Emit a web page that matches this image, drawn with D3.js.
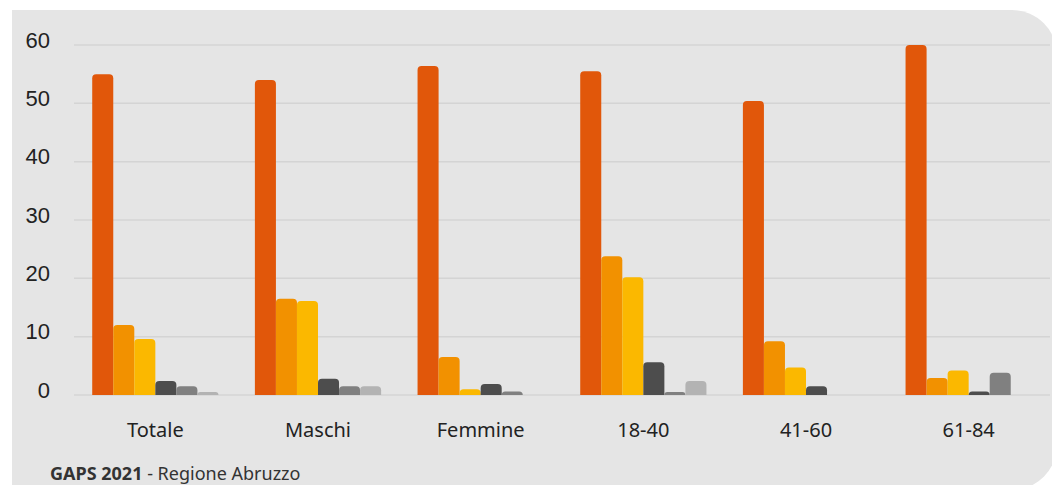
<!DOCTYPE html>
<html>
<head>
<meta charset="utf-8">
<script src="https://cdn.jsdelivr.net/npm/d3@7"></script>
<style>
  html, body { margin: 0; padding: 0; background: #ffffff; }
  svg { display: block; }
</style>
</head>
<body>
<svg id="chart" width="1052" height="485"></svg>
<script>
const categories = ["Totale", "Maschi", "Femmine", "18-40", "41-60", "61-84"];
const seriesNames = ["s1", "s2", "s3", "s4", "s5", "s6"];
const s1 = [55.0, 54.0, 56.4, 55.5, 50.4, 60.0];
const s2 = [12.0, 16.5, 6.5, 23.8, 9.2, 2.9];
const s3 = [9.6, 16.1, 1.0, 20.2, 4.7, 4.2];
const s4 = [2.4, 2.8, 1.9, 5.6, 1.5, 0.6];
const s5 = [1.5, 1.5, 0.6, 0.5, 0, 3.8];
const s6 = [0.5, 1.5, 0, 2.4, 0, 0];
const yTicks = [0, 10, 20, 30, 40, 50, 60];
const colors = ["#E1570A", "#F29100", "#FBB800", "#4D4D4D", "#808080", "#B3B3B3"];

const series = [s1, s2, s3, s4, s5, s6];

const svg = d3.select("#chart");

// background panel
svg.append("rect")
  .attr("x", 12).attr("y", 10)
  .attr("width", 1045).attr("height", 480)
  .attr("rx", 45).attr("ry", 45)
  .attr("fill", "#E5E5E5");
svg.append("rect")
  .attr("x", 12).attr("y", 10)
  .attr("width", 200).attr("height", 480)
  .attr("fill", "#E5E5E5");

const x = d3.scaleBand().domain(categories).range([74, 1050]).paddingInner(0.224).paddingOuter(0.112);
const xs = d3.scaleBand().domain(seriesNames).range([0, x.bandwidth()]).padding(0);
const y = d3.scaleLinear().domain([0, 60]).range([395, 45]);

// gridlines
svg.append("g").selectAll("line").data(yTicks).join("line")
  .attr("x1", 74).attr("x2", 1050)
  .attr("y1", d => y(d)).attr("y2", d => y(d))
  .attr("stroke", "#D4D4D4").attr("stroke-width", 1.5);

// y tick labels
svg.append("g").selectAll("text").data(yTicks).join("text")
  .attr("x", 50).attr("y", d => y(d) - 3)
  .attr("text-anchor", "end")
  .attr("dominant-baseline", "middle")
  .attr("font-family", "Liberation Sans, Arial, sans-serif")
  .attr("font-size", 22)
  .attr("fill", "#222")
  .text(d => d);

// bars with rounded tops
function barPath(x0, w, yTop, yBase, r) {
  const h = yBase - yTop;
  if (h <= 0) return "";
  const rr = Math.min(r, h, w / 2);
  return `M${x0},${yBase} L${x0},${yTop + rr} Q${x0},${yTop} ${x0 + rr},${yTop} L${x0 + w - rr},${yTop} Q${x0 + w},${yTop} ${x0 + w},${yTop + rr} L${x0 + w},${yBase} Z`;
}

const groups = svg.append("g").selectAll("g").data(categories).join("g")
  .attr("transform", d => `translate(${x(d)},0)`);

groups.each(function(cat, ci) {
  const g = d3.select(this);
  series.forEach((s, si) => {
    const v = s[ci];
    if (v <= 0) return;
    g.append("path")
      .attr("d", barPath(xs(seriesNames[si]), xs.bandwidth(), y(v), y(0), 4))
      .attr("fill", colors[si]);
  });
});

// x labels
svg.append("g").selectAll("text").data(categories).join("text")
  .attr("x", d => x(d) + x.bandwidth() / 2)
  .attr("y", 437)
  .attr("text-anchor", "middle")
  .attr("font-family", "Noto Sans, sans-serif")
  .attr("font-size", 20)
  .attr("fill", "#222")
  .text(d => d);

// footer
const foot = svg.append("text")
  .attr("x", 50).attr("y", 480)
  .attr("font-family", "Noto Sans, sans-serif")
  .attr("font-size", 18)
  .attr("fill", "#333");
foot.append("tspan").attr("font-weight", "bold").text("GAPS 2021");
foot.append("tspan").text(" - Regione Abruzzo");
</script>
</body>
</html>
